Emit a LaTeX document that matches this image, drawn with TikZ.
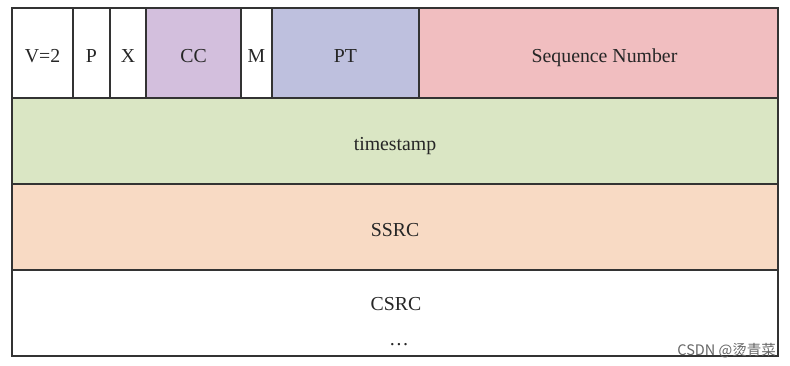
\documentclass[tikz,border=0pt]{standalone}
\usepackage{fontspec}
\setmainfont{Liberation Serif}
\newfontfamily\cjk{Noto Sans CJK SC}

\definecolor{rim}{RGB}{51,51,51}
\definecolor{ccfill}{RGB}{211,191,221}
\definecolor{ptfill}{RGB}{190,192,222}
\definecolor{seqfill}{RGB}{241,190,192}
\definecolor{tsfill}{RGB}{218,230,196}
\definecolor{ssrcfill}{RGB}{248,218,196}

\tikzstyle{labelfont}=[font=\fontsize{19.8}{23}\selectfont,text=black!85]
\tikzstyle{field}=[draw=rim,line width=2.5pt,rectangle,inner sep=0pt,outer sep=0pt,
  text height=19pt,text depth=0pt,labelfont]
\tikzstyle{rowfield}=[field,minimum width=766pt,minimum height=86pt]

\begin{document}
\begin{tikzpicture}[x=1pt,y=-1pt]
\useasboundingbox (0,0) rectangle (790,366);

% first row: header bits
\node[field,fill=white,minimum width=61pt,minimum height=90pt] (ver) at (42.5,53) {V=2};
\node[field,fill=white,minimum width=37pt,minimum height=90pt] (pad) at (91.5,53) {P};
\node[field,fill=white,minimum width=36pt,minimum height=90pt] (ext) at (128,53) {X};
\node[field,fill=ccfill,minimum width=95pt,minimum height=90pt] (cc) at (193.5,53) {CC};
\node[field,fill=white,minimum width=31pt,minimum height=90pt] (mark) at (256.5,53) {M};
\node[field,fill=ptfill,minimum width=147pt,minimum height=90pt] (pt) at (345.5,53) {PT};
\node[field,fill=seqfill,minimum width=359pt,minimum height=90pt] (seq) at (598.5,53) {\hspace*{12pt}Sequence Number};

% full width rows
\node[rowfield,fill=tsfill] (ts) at (395,141) {timestamp};
\node[rowfield,fill=ssrcfill] (ssrc) at (395,227) {SSRC};
\node[rowfield,fill=white] (csrc) at (395,313) {};

\node[labelfont,anchor=base] (csrcname) at (396,310) {CSRC};
\node[labelfont,anchor=base] (dots) at (399,345) {\dots};

\node[anchor=base east,inner sep=0pt,text=black!60] (wmark) at (776,355) {\cjk\fontsize{14.5}{16}\selectfont CSDN @烫青菜};
\end{tikzpicture}
\end{document}
